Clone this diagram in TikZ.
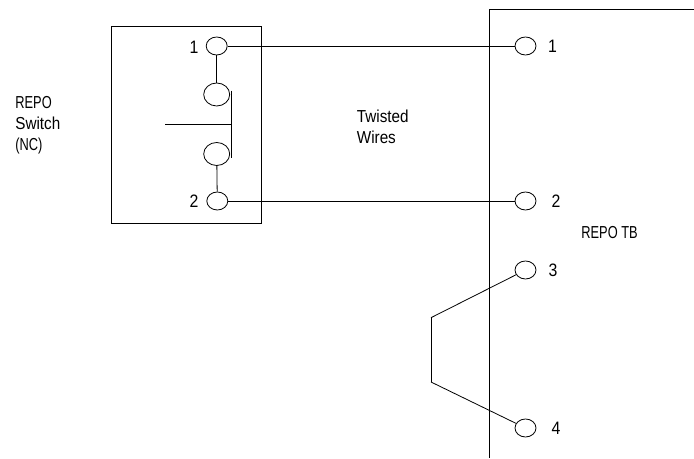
\documentclass[tikz,border=0pt]{standalone}
\usepackage{fontspec}
\setmainfont{Liberation Sans}
\newfontfamily\narrowfont[FakeStretch=0.88]{Liberation Sans}
\newfontfamily\capsfont[FakeStretch=0.74]{Liberation Sans}
\tikzset{
  terminal/.style={draw,ellipse,inner sep=0pt,minimum width=15.75pt,minimum height=13.5pt},
  contact/.style={draw,ellipse,inner sep=0pt,minimum width=19.5pt,minimum height=17.25pt},
  caption/.style={font=\narrowfont\fontsize{13}{15.75}\selectfont,inner sep=0pt},
  pinlabel/.style={font=\narrowfont\fontsize{13.5}{15}\selectfont,inner sep=0pt}
}
\usetikzlibrary{shapes.geometric}
\begin{document}
\begin{tikzpicture}[x=0.75pt,y=-0.75pt,line width=0.6pt]
      \useasboundingbox (0,0) rectangle (694,459);
      \draw
        (111,26) rectangle (261,223)
        (694,9) coordinate (tbend) (489.5,9) coordinate (tbtop) (489.5,458) coordinate (tbbot);
      \draw (tbend) -- (tbtop) -- (tbbot);
      \draw
        (216.7,46) node[terminal] (s1){}
        (216.7,94.5) node[contact] (c1){}
        (216.7,154) node[contact] (c2){}
        (217.3,201) node[terminal] (s2){}
        (525.5,46) node[terminal] (1){}
        (525.5,201) node[terminal] (2){}
        (525.5,270) node[terminal] (3){}
        (525.5,428) node[terminal] (4){};
      \coordinate (bartop) at (231.3,90.7);
      \coordinate (barbot) at (231.3,157.7);
      \coordinate (barmid) at (231.3,124.3);
      \coordinate (plunger) at (165,124.3);
      \coordinate (jmpa) at (431,317.7);
      \coordinate (jmpb) at (431,382);
      \begin{scope}[-]
        \draw (s1) to (c1);
        \draw (c2) to (s2);
        \draw (bartop) to (barbot);
        \draw (plunger) to (barmid);
        \draw (s1) to (1);
        \draw (s2) to (2);
        \draw (3) to (jmpa);
        \draw (jmpa) to (jmpb);
        \draw (jmpb) to (4);
      \end{scope}
      \node[pinlabel] (ls1) at (194,47) {1};
      \node[pinlabel] (ls2) at (194,201) {2};
      \node[pinlabel] (l1) at (552.5,46.5) {1};
      \node[pinlabel] (l2) at (556,201) {2};
      \node[pinlabel] (l3) at (553,270) {3};
      \node[pinlabel] (l4) at (556,428) {4};
      \node[caption,anchor=north west,align=left] (switch) at (15,96) {{\capsfont REPO}\\Switch\\{\capsfont (NC)}};
      \node[caption,anchor=north west,align=left] (wires) at (356.5,110) {Twisted\\Wires};
      \node[caption,anchor=west] (tb) at (581,232.5) {\capsfont REPO TB};
    \end{tikzpicture}
\end{document}
